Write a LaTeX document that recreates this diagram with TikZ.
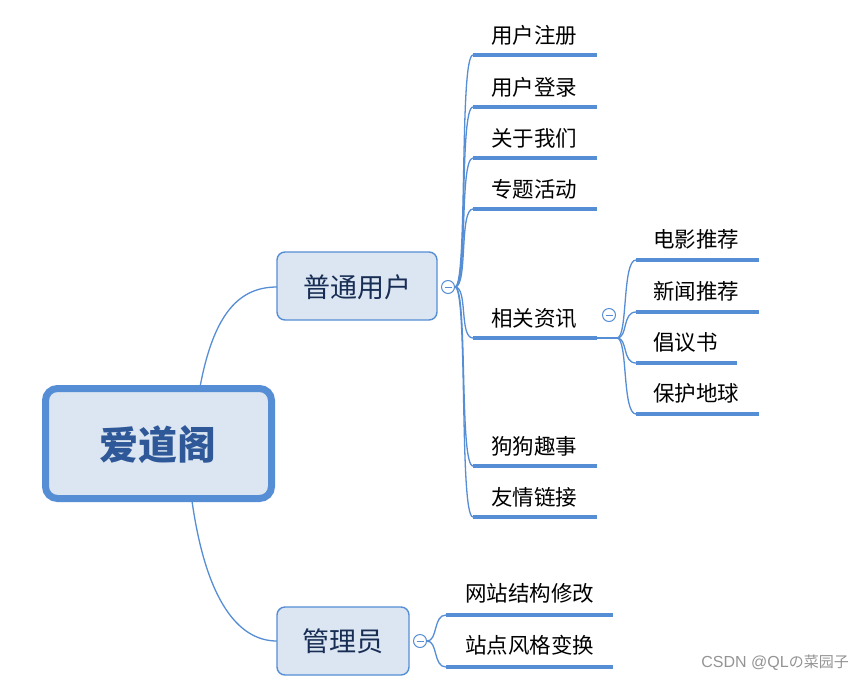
\documentclass[tikz,border=0pt]{standalone}
\usepackage{fontspec}
\usetikzlibrary{calc}
\newfontfamily\cjk{Noto Sans CJK SC}
\newfontfamily\wmlatin{Liberation Sans}
\begin{document}
\begin{tikzpicture}[x=1pt,y=-1pt,
  line cap=butt,
  rootbox/.style={draw=lineblue, fill=boxfill, line width=7pt, rounded corners=12pt},
  topicbox/.style={draw=lineblue, fill=boxfill, line width=1.4pt, rounded corners=8pt},
  foldmark/.style={circle, draw=lineblue, fill=white, line width=1pt, minimum size=13pt, inner sep=0pt},
  branch/.style={draw=lineblue, line width=1.3pt},
  uline/.style={draw=lineblue, line width=4pt},
  leaf/.style={anchor=west, inner sep=0pt, font=\cjk\fontsize{21.5}{21.5}\selectfont, text=black},
  topic/.style={inner sep=0pt, font=\cjk\fontsize{27}{27}\selectfont, text=topictext}]
\definecolor{lineblue}{RGB}{85,142,213}
\definecolor{boxfill}{RGB}{220,230,242}
\definecolor{topictext}{RGB}{23,45,84}
\definecolor{roottext}{RGB}{46,88,152}
\useasboundingbox[fill=white] (0,0) rectangle (864,683);

% connectors root -> topics
\coordinate (rtop) at (200,387);
\coordinate (rbot) at (192,501);
\coordinate (uleft) at (277,287);
\coordinate (aleft) at (277,641);
\draw[branch] (rtop) .. controls (214,312) and (240,287) .. (uleft);
\draw[branch] (rbot) .. controls (206,600) and (238,641) .. (aleft);

% root
\draw[rootbox] (45.5,388.5) rectangle (271.5,498.5);
\node[inner sep=0pt, font=\cjk\bfseries\fontsize{39}{39}\selectfont, text=roottext] (root) at (158,445) {爱道阁};

% topic: 普通用户
\draw[topicbox] (277,252) rectangle (437,320);
\node[topic] (user) at (357,287) {普通用户};
\coordinate (ufold) at (448,287);
\coordinate (ustart) at (455,287);

% user children
\foreach \n/\t/\y in {c1/用户注册/55, c2/用户登录/107, c3/关于我们/158, c4/专题活动/209, c5/相关资讯/338, c6/狗狗趣事/466, c7/友情链接/517}{
  \coordinate (\n s) at (473,\y);
  \coordinate (\n e) at (597,\y);
  \draw[branch] (ustart) .. controls (468,287) and (459,\y) .. (\n s);
  \draw[uline] (\n s) -- (\n e);
  \node[leaf] (\n) at (491,\y-20) {\t};
}
\node[foldmark] (ufoldm) at (ufold) {};
\draw[lineblue, line width=1pt] ($(ufold)+(-3.5,0)$) -- ($(ufold)+(3.5,0)$);

% sub children of 相关资讯
\coordinate (sbranch) at (617,338);
\draw[branch] (c5e) -- (sbranch);
\foreach \n/\t/\y/\xe in {d1/电影推荐/260/759, d2/新闻推荐/312/759, d3/倡议书/363/737, d4/保护地球/414/759}{
  \coordinate (\n s) at (636,\y);
  \coordinate (\n e) at (\xe,\y);
  \draw[branch] (sbranch) .. controls (628,338) and (622,\y) .. (\n s);
  \draw[uline] (\n s) -- (\n e);
  \node[leaf] (\n) at (653,\y-21) {\t};
}
\coordinate (sfold) at (609,315);
\node[foldmark] (sfoldm) at (sfold) {};
\draw[lineblue, line width=1pt] ($(sfold)+(-3.5,0)$) -- ($(sfold)+(3.5,0)$);

% topic: 管理员
\draw[topicbox] (277,607) rectangle (409,675);
\node[topic] (admin) at (343,641) {管理员};
\coordinate (afold) at (420,641);
\coordinate (astart) at (427,641);
\foreach \n/\t/\y in {a1/网站结构修改/615, a2/站点风格变换/667}{
  \coordinate (\n s) at (446,\y);
  \coordinate (\n e) at (613,\y);
  \draw[branch] (astart) .. controls (438,641) and (433,\y) .. (\n s);
  \draw[uline] (\n s) -- (\n e);
  \node[leaf] (\n) at (465,\y-22) {\t};
}
\node[foldmark] (afoldm) at (afold) {};
\draw[lineblue, line width=1pt] ($(afold)+(-3.5,0)$) -- ($(afold)+(3.5,0)$);

% watermark
\node[anchor=east, inner sep=0pt, text=black!42] (wm) at (849,663) {{\wmlatin\fontsize{16}{16}\selectfont CSDN @QL}{\cjk\fontsize{15}{15}\selectfont の菜园子}};
\end{tikzpicture}
\end{document}
